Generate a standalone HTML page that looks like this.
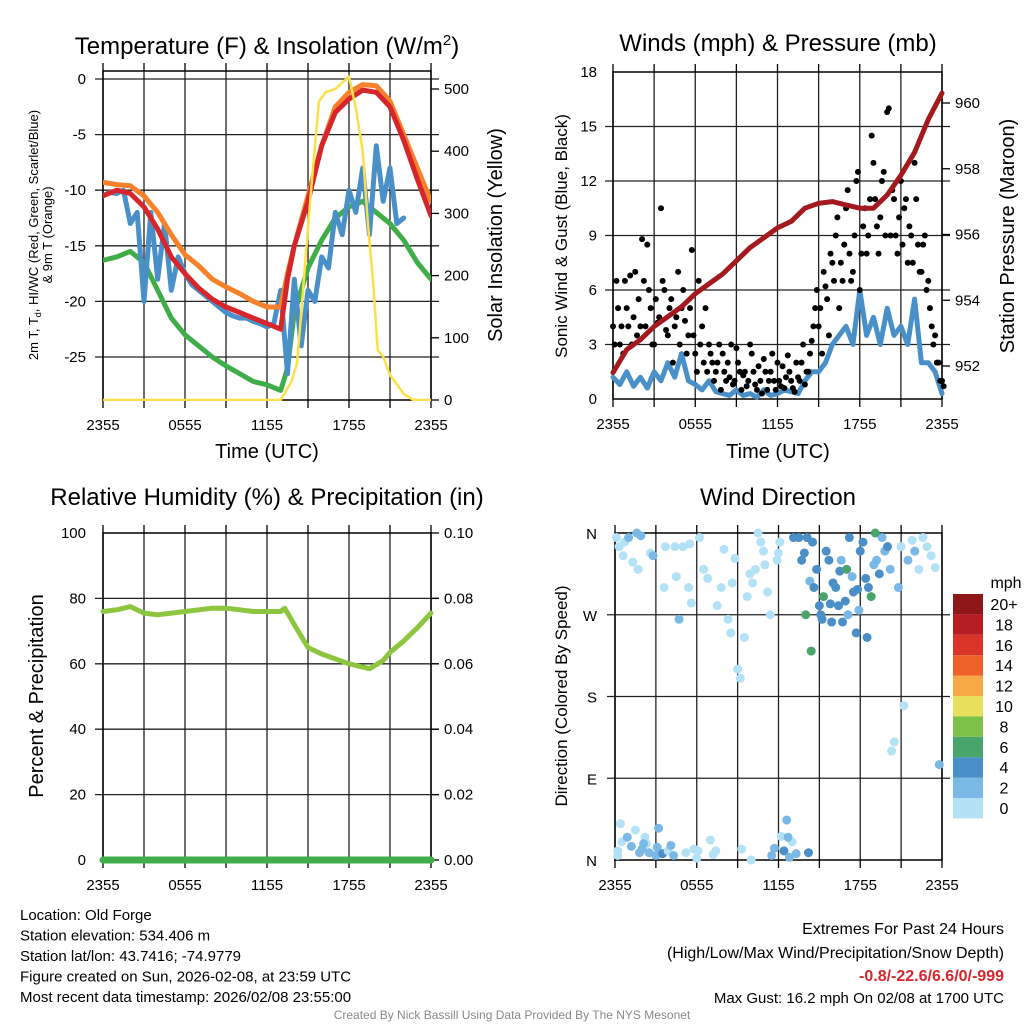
<!DOCTYPE html>
<html><head><meta charset="utf-8"><style>
body{margin:0;background:#fff}
svg{display:block;font-family:"Liberation Sans",sans-serif}
</style></head><body>
<svg id="s" width="1024" height="1024" viewBox="0 0 1024 1024"></svg>
<script>
// ---------- data ----------
const hoursH = [0,1,2,3,4,5,6,7,8,9,10,11,12,13,13.5,14,15,16,17,18,19,20,21,22,23,24];
const tempRed = [-10.5,-10,-10.3,-11.5,-13.5,-16,-17.5,-18.8,-19.8,-20.5,-21,-21.5,-22,-22.5,-18,-15,-11,-6,-3,-1.8,-1,-1.2,-2.5,-5.5,-9,-12.3];
const temp9mOrange = [-9.3,-9.5,-9.6,-10.5,-12,-14,-15.8,-16.8,-18,-18.7,-19.3,-20,-20.5,-20.5,-17.5,-15,-10.5,-6,-2.5,-1.2,-0.5,-0.6,-2,-5,-8,-11];
const dewGreen = [-16.3,-16,-15.5,-16.5,-19,-21.5,-23,-24,-25,-25.8,-26.5,-27.2,-27.5,-28,-26,-21,-17,-14.5,-12.5,-11.5,-11,-12,-13,-14.5,-16.5,-18];
const halfH = [0,0.5,1,1.5,2,2.5,3,3.5,4,4.5,5,5.5,6,6.5,7,7.5,8,8.5,9,9.5,10,10.5,11,11.5,12,12.5,13,13.5,14,14.5,15,15.5,16,16.5,17,17.5,18,18.5,19,19.5,20,20.5,21,21.5,22];
const windChillBlue = [-10.5,-10.2,-10.3,-10,-13,-12,-20,-12,-18,-13,-19,-16,-17.5,-18.5,-19,-19.5,-20,-20.5,-21,-21.3,-21.5,-21.5,-21.8,-22,-22.3,-22,-19,-26.5,-18,-24,-19,-20,-16,-17,-12,-14,-10,-12,-8,-14,-6,-11,-8,-13,-12.5];
const solarH = [0,13,13.8,14.2,14.5,15.2,15.8,16.3,17,17.5,18,18.5,19,19.4,19.8,20.1,20.5,21,21.5,22,22.7,24];
const solarYellow = [0,0,30,60,140,330,480,495,500,510,520,470,400,280,180,80,70,40,25,10,0,0];
const windH = [0,0.5,1,1.5,2,2.5,3,3.5,4,4.5,5,5.5,6,6.5,7,7.5,8,8.5,9,9.5,10,10.5,11,11.5,12,12.5,13,13.5,14,14.5,15,15.5,16,16.5,17,17.5,18,18.5,19,19.5,20,20.5,21,21.5,22,22.5,23,23.5,24];
const sonicWind = [1.2,0.8,1.5,0.7,1.2,0.6,1.5,1,2,1.2,2.5,1,0.8,0.5,1,0.4,0.3,0.2,0.5,0.2,0.3,0.1,0.5,0.2,0.3,0.5,0.4,0.3,1,1.5,1.5,2,3,3.5,4,3,6,3.5,4.5,3,5,3.5,4,3,5.5,2,2,1.5,0.3];
const gustH = [];
for(let i=0;i<97;i++) gustH.push(i*0.25);
const gustVals = [4,6.5,3,2.5,5,6.8,4.5,3.5,4,6.5,8.5,5,3,4.2,10.5,6,3.5,5.5,4,7,5,4.3,3.5,8.2,2.5,6.5,4,5,3,2,1.5,3,2.5,1,1.2,0.8,2.8,1.5,1.3,0.7,3,1.5,0.5,1,2.2,0.5,1.5,1,2,0.7,0.6,2.4,1,0.4,1.2,2,0.8,1.5,3.2,5,4,2.5,6.2,3.5,7.5,9,5,6.5,10.5,8,7,12,6,9.5,8,11,13,9.5,10,12.5,15.8,9,11,8,12,10.5,7.5,9,13,8.5,7,9,6.5,4,3.5,2,1];
const gustVals2 = [3,5,4,6.5,4,3,7,5.5,8.8,4,6,3,5.5,4.5,6.5,3.8,5,2,4.5,3,6,2.5,5,3.5,1.5,3,2,1.5,2.5,1,2,0.5,1.5,2,3,1,2,0.5,1.5,1,2.5,0.8,1.8,0.3,1.5,1,2.5,0.5,1,1.8,1.2,1.5,0.6,2,1,3,1.5,2.5,4,6,5,7,5.5,8,6.5,10,7.5,8.5,11.5,6.5,9,12.5,8,10.5,9,14.5,11,8,12,9,16,11.5,9,10,8.5,11,9.5,7.5,11,7,8.5,6,5,3,2,1,0.7];
const presH = [0,1,2,3,4,5,6,7,8,9,10,11,12,13,14,15,16,17,18,19,20,21,22,23,24];
const pressure = [951.8,952.5,952.8,953.2,953.5,953.8,954.2,954.5,954.8,955.2,955.6,955.9,956.2,956.4,956.8,956.95,957.0,956.9,956.8,956.8,957.2,957.8,958.5,959.5,960.3];
const rhH = [0,1,2,3,4,5,6,7,8,9,10,11,12,13,13.3,14,15,16,17,18,19,19.5,20.5,21,22,23,24];
const relHum = [76,76.5,77.5,75.5,75,75.5,76,76.5,77,77,76.5,76,76,76,77,72,65,63,61.5,60,59,58.5,61,63.5,67,71,75.5];
const precipH = [0,24];
const precip = [0,0];
const dirH = [0.1,0.2,0.3,0.5,0.6,0.7,0.9,1,1.2,1.3,1.5,1.7,1.8,1.9,2,2.2,2.3,2.5,2.6,2.8,3,3.1,3.3,3.5,3.7,3.9,4.1,4.3,4.5,4.7,5,5.2,5.4,5.6,5.8,6,6.2,6.5,6.8,7,7.2,7.5,7.8,8,8.3,8.5,8.8,9,9.2,9.5,9.7,9.9,10.1,10.3,10.5,10.7,10.9,11,11.2,11.4,11.5,11.7,11.9,12,12.2,12.4,12.6,12.8,13,13.3,13.5,13.7,14,14.1,14.3,14.5,14.6,14.8,15,15.1,15.3,15.5,15.7,15.8,16,16.2,16.4,16.5,16.7,16.9,17,17.2,17.4,17.5,17.7,17.9,18,18.2,18.4,18.6,18.8,19,19.2,19.4,19.6,19.8,20,20.2,20.5,20.8,21,21.2,21.5,21.8,22,22.3,22.6,22.9,23.2,23.5,23.8,0.2,0.4,1.6,2.1,3.2,3.6,4.4,5.5,6.1,7.4,8.6,9.3,10,12.1,12.7,13.1,13.9,14.2,14.4,15.2,15.9,16.6,17.1,17.8,18.5,19.1,20.3];
const dirDeg = [355,10,345,20,335,350,25,355,15,328,33,320,8,357,12,25,18,8,338,335,5,14,7,7,345,10,16,5,312,265,345,8,300,283,12,2,355,320,310,22,6,280,300,342,265,250,332,210,200,245,290,315,305,320,360,350,340,325,295,270,5,13,330,338,26,10,44,3,20,7,355,330,270,355,307,350,300,320,280,270,290,340,330,282,305,300,280,318,262,285,320,355,312,295,250,275,340,350,310,300,290,325,330,315,355,340,345,320,130,300,345,170,330,352,340,320,355,345,335,322,105,5,40,360,18,35,300,345,348,10,10,305,12,0,350,25,355,338,8,230,265,262,330,270,298,245,360,120,280,292];
const dirSpeed = [1,0,1,0,1,0,2,3,3,1,1,0,2,3,2,1,0,3,1,2,3,3,2,4,0,1,2,3,1,3,0,1,0,0,1,0,1,1,0,1,0,0,0,0,0,0,1,0,0,0,1,0,0,1,0,0,0,0,0,1,3,2,0,0,0,4,3,3,0,3,4,4,6,4,3,4,4,4,4,5,6,4,4,4,4,5,4,4,4,4,6,4,3,4,4,2,4,4,4,4,6,2,2,4,3,2,4,2,1,3,1,0,2,1,2,1,0,0,0,1,2,1,0,3,2,2,0,0,0,0,0,1,0,0,0,3,4,4,4,6,4,4,3,3,4,4,6,1,2,2];

// ---------- helpers ----------
const S = document.getElementById('s');
const NS = 'http://www.w3.org/2000/svg';
function mk(tag, attrs, parent){const e=document.createElementNS(NS,tag);for(const k in attrs)e.setAttribute(k,attrs[k]);(parent||S).appendChild(e);return e;}
function txt(x,y,s,size,anchor,parent,extra){const e=mk('text',Object.assign({x:x,y:y,'font-size':size,'text-anchor':anchor||'middle',fill:'#000'},extra||{}),parent);e.textContent=s;return e;}
function lin(d0,d1,r0,r1){return v=>r0+(v-d0)*(r1-r0)/(d1-d0);}
function path(xs,ys,fx,fy,color,w,parent){let d='';for(let i=0;i<xs.length;i++){d+=(i?'L':'M')+fx(xs[i]).toFixed(1)+','+fy(ys[i]).toFixed(1);}return mk('path',{d:d,fill:'none',stroke:color,'stroke-width':w,'stroke-linejoin':'round','stroke-linecap':'round'},parent);}
const xLabels=['2355','0555','1155','1755','2355'];
function frame(g,x0,y0,x1,y1,hgrid){
  for(let i=0;i<=8;i++){const x=x0+(x1-x0)*i/8;mk('line',{x1:x,y1:y0,x2:x,y2:y1,stroke:'#222','stroke-width':1.3},g);mk('line',{x1:x,y1:y1,x2:x,y2:y1+8,stroke:'#000','stroke-width':1.3},g);mk('line',{x1:x,y1:y0,x2:x,y2:y0-8,stroke:'#000','stroke-width':1.3},g);}
  hgrid.forEach(y=>{mk('line',{x1:x0-8,y1:y,x2:x1+8,y2:y,stroke:'#222','stroke-width':1.3},g);});
  mk('rect',{x:x0,y:y0,width:x1-x0,height:y1-y0,fill:'none',stroke:'#000','stroke-width':1.5},g);
  for(let i=0;i<5;i++){const e=txt(x0+(x1-x0)*i/4,y1+30,xLabels[i],15,'middle',g);}
}

// ---------- Panel 1: temperature ----------
const g1=mk('g',{});
const X1=lin(0,24,103,431), Y1=lin(0,-25,79,357), YS=lin(0,500,400,89);
const yt1=[0,-5,-10,-15,-20,-25];
frame(g1,103,71,431,400,yt1.map(Y1));
yt1.forEach(v=>txt(86,Y1(v)+5,String(v),15,'end',g1));
[0,100,200,300,400,500].forEach(v=>{mk('line',{x1:431,y1:YS(v),x2:439,y2:YS(v),stroke:'#000','stroke-width':1.3},g1);txt(444,YS(v)+5,String(v),15,'start',g1);});
const cp=mk('clipPath',{id:'c1'},g1);
mk('rect',{x:103,y:71,width:328,height:330},cp);
const pg=mk('g',{'clip-path':'url(#c1)'},g1);
path(hoursH,dewGreen,X1,Y1,'#3fae49',5,pg);
path(halfH,windChillBlue,X1,Y1,'#4a90c8',5,pg);
path(hoursH,temp9mOrange,X1,Y1,'#f7812b',5,pg);
path(hoursH,tempRed,X1,Y1,'#d7262b',5,pg);
path(solarH,solarYellow,X1,YS,'#fde047',2.5,pg);
const t1=txt(267,54,'',24,'middle',g1);t1.innerHTML='Temperature (F) &amp; Insolation (W/m<tspan dy="-9" font-size="15">2</tspan><tspan dy="9">)</tspan>';
txt(267,458,'Time (UTC)',20,'middle',g1);
const yl=mk('g',{transform:'translate(38,235) rotate(-90)'},g1);
const yl1=txt(0,0,'',13,'middle',yl);yl1.innerHTML='2m T, T<tspan dy="3" font-size="9">d</tspan><tspan dy="-3">, HI/WC (Red, Green, Scarlet/Blue)</tspan>';
txt(0,14,'& 9m T (Orange)',13,'middle',yl);
txt(0,0,'Solar Insolation (Yellow)',20,'middle',g1).setAttribute('transform','translate(502,235) rotate(-90)');

// ---------- Panel 2: winds ----------
const g2=mk('g',{});
const X2=lin(0,24,613,942), Y2=lin(0,18,399,72), YP=lin(952,960,366,103);
frame(g2,613,72,942,399,[3,6,9,12,15].map(Y2));
[0,3,6,9,12,15,18].forEach(v=>txt(597,Y2(v)+5,String(v),15,'end',g2));
[952,954,956,958,960].forEach(v=>{mk('line',{x1:942,y1:YP(v),x2:950,y2:YP(v),stroke:'#000','stroke-width':1.3},g2);txt(955,YP(v)+5,String(v),15,'start',g2);});
path(windH,sonicWind,X2,Y2,'#4a90c8',5,g2);
[gustVals,gustVals2].forEach((arr,k)=>arr.forEach((v,i)=>{const c=mk('circle',{cx:X2(gustH[i]+k*0.12),cy:Y2(v),r:3,fill:'#000'},g2);}));
path(presH,pressure,X2,YP,'#a3191d',5,g2);
txt(778,51,'Winds (mph) & Pressure (mb)',24,'middle',g2);
txt(778,458,'Time (UTC)',20,'middle',g2);
txt(0,0,'Sonic Wind & Gust (Blue, Black)',17,'middle',g2).setAttribute('transform','translate(567,236) rotate(-90)');
txt(0,0,'Station Pressure (Maroon)',20,'middle',g2).setAttribute('transform','translate(1014,236) rotate(-90)');

// ---------- Panel 3: RH ----------
const g3=mk('g',{});
const X3=lin(0,24,103,431), Y3=lin(0,100,860,533), YR=lin(0,0.1,860,533);
frame(g3,103,533,431,860,[20,40,60,80].map(Y3));
[0,20,40,60,80,100].forEach(v=>txt(86,Y3(v)+5,String(v),15,'end',g3));
[0,0.02,0.04,0.06,0.08,0.1].forEach(v=>{mk('line',{x1:431,y1:YR(v),x2:439,y2:YR(v),stroke:'#000','stroke-width':1.3},g3);txt(444,YR(v)+5,v.toFixed(2),15,'start',g3);});
path(rhH,relHum,X3,Y3,'#8cc63f',5,g3);
path(precipH,precip,X3,YR,'#3fae49',7,g3);
txt(267,505,'Relative Humidity (%) & Precipitation (in)',24,'middle',g3);
txt(0,0,'Percent & Precipitation',20,'middle',g3).setAttribute('transform','translate(43,696) rotate(-90)');

// ---------- Panel 4: direction ----------
const g4=mk('g',{});
const X4=lin(0,24,615,942), Y4=lin(0,360,860,533);
frame(g4,615,533,942,860,[90,180,270].map(Y4));
[['N',360],['W',270],['S',180],['E',90],['N',0]].forEach(a=>txt(597,Y4(a[1])+6,a[0],15,'end',g4));
const cols=['#b3e2f7','#7ab9e5','#4a8fc7','#48a56c','#7dc04a','#e7e05a','#f6a944','#ef6128','#da3327','#b81d24','#8f1619'];
dirH.forEach((h,i)=>{const c=mk('circle',{cx:X4(h),cy:Y4(dirDeg[i]),r:4.5,fill:cols[Math.min(10,Math.floor(dirSpeed[i]/2))]},g4);});
txt(778,505,'Wind Direction',24,'middle',g4);
txt(0,0,'Direction (Colored By Speed)',17,'middle',g4).setAttribute('transform','translate(567,696) rotate(-90)');
const lg=mk('g',{});
const lab=['0','2','4','6','8','10','12','14','16','18','20+'];
for(let i=0;i<11;i++){const y=798-i*20.4;mk('rect',{x:953,y:y,width:30,height:20.4,fill:cols[i]},lg);txt(1004,y+16,lab[i],16,'middle',lg);}
txt(1006,588,'mph',16,'middle',lg);

// ---------- footer ----------
const f=mk('g',{});
['Location: Old Forge','Station elevation: 534.406 m','Station lat/lon: 43.7416; -74.9779','Figure created on Sun, 2026-02-08, at 23:59 UTC','Most recent data timestamp: 2026/02/08 23:55:00'].forEach((s,i)=>txt(20,920+i*20.5,s,15,'start',f));
txt(1004,934,'Extremes For Past 24 Hours',16,'end',f);
txt(1004,958,'(High/Low/Max Wind/Precipitation/Snow Depth)',16,'end',f);
txt(1004,981,'-0.8/-22.6/6.6/0/-999',16,'end',f,{fill:'#d7262b','font-weight':'bold'});
txt(1004,1003,'Max Gust: 16.2 mph On 02/08 at 1700 UTC',15,'end',f);
txt(512,1019,'Created By Nick Bassill Using Data Provided By The NYS Mesonet',12,'middle',f,{fill:'#888'});
</script>
</body></html>
